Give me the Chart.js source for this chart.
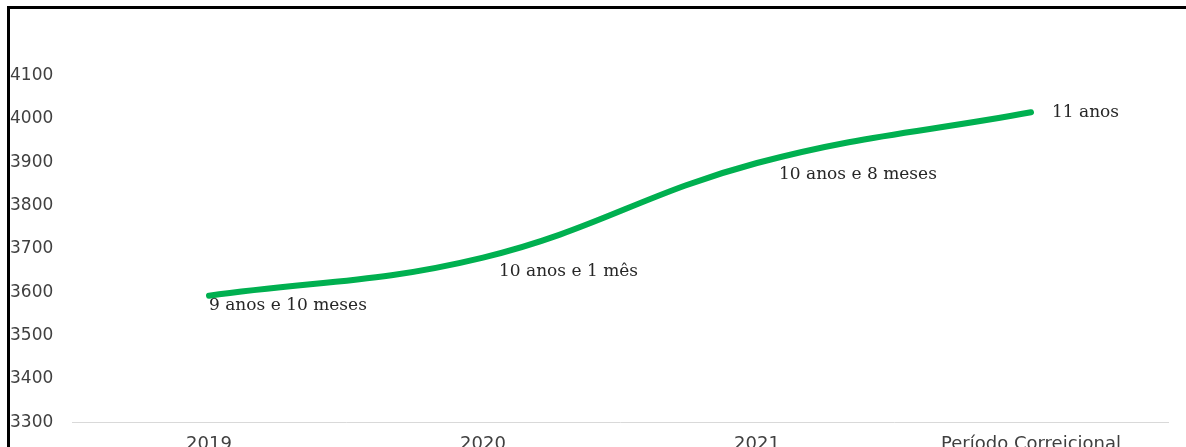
<!DOCTYPE html>
<html>
<head>
<meta charset="utf-8">
<script src="https://cdn.jsdelivr.net/npm/chart.js@4"></script>
<style>
  html, body { margin: 0; padding: 0; background: #fff; overflow: hidden; }
  #frame {
    position: absolute; left: 7px; top: 6px; width: 1179px; height: 480px;
    border-top: 3px solid #000; border-left: 3px solid #000;
  }
  #wrap { position: absolute; left: 10px; top: 9px; width: 1176px; height: 474px; }
</style>
</head>
<body>
<div id="frame"></div>
<div id="wrap"><canvas id="tempoChart"></canvas></div>
<script>
// Tempo médio (dias) por período
const periodos = ['2019', '2020', '2021', 'Período Correicional'];
const dias = [3592, 3680, 3898, 4015];
const rotulos = ['9 anos e 10 meses', '10 anos e 1 mês', '10 anos e 8 meses', '11 anos'];
const yTicks = [3300, 3400, 3500, 3600, 3700, 3800, 3900, 4000, 4100];

// text placed next to each point (dx, dy from the point)
const labelOffsets = [[0, 10], [16, 14], [22, 12], [21, 0]];

const pointLabels = {
    id: 'pointLabels',
    afterDatasetsDraw(chart) {
        const ctx = chart.ctx;
        const meta = chart.getDatasetMeta(0);
        ctx.save();
        ctx.font = '17px "DejaVu Serif"';
        ctx.fillStyle = '#262626';
        ctx.textAlign = 'left';
        ctx.textBaseline = 'middle';
        meta.data.forEach(function(pt, i) {
            const off = labelOffsets[i];
            ctx.fillText(rotulos[i], pt.x + off[0], pt.y + off[1]);
        });
        ctx.restore();
    }
};

new Chart(document.getElementById('tempoChart'), {
    type: 'line',
    data: {
        labels: periodos,
        datasets: [{
            data: dias,
            borderColor: '#00B050',
            borderWidth: 6,
            borderCapStyle: 'round',
            tension: 0.4,
            pointRadius: 0,
            fill: false
        }]
    },
    options: {
        responsive: true,
        maintainAspectRatio: false,
        animation: false,
        layout: { padding: { top: 23, right: 18, bottom: 17, left: 0 } },
        plugins: {
            legend: { display: false },
            tooltip: { enabled: false }
        },
        scales: {
            x: {
                offset: true,
                grid: { display: false, drawTicks: false },
                border: { color: '#d9d9d9', width: 1 },
                ticks: {
                    color: '#404040',
                    padding: 11,
                    font: { family: 'DejaVu Sans', size: 18 }
                }
            },
            y: {
                min: 3300,
                max: 4200,
                grid: { display: false },
                border: { display: false },
                afterBuildTicks: function(scale) {
                    scale.ticks = yTicks.map(v => ({ value: v }));
                },
                afterFit: function(scale) { scale.width = 62; },
                ticks: {
                    crossAlign: 'far',
                    color: '#404040',
                    padding: 0,
                    font: { family: 'DejaVu Sans', size: 17 },
                    callback: function(value) { return String(value); }
                }
            }
        }
    },
    plugins: [pointLabels]
});
</script>
</body>
</html>
